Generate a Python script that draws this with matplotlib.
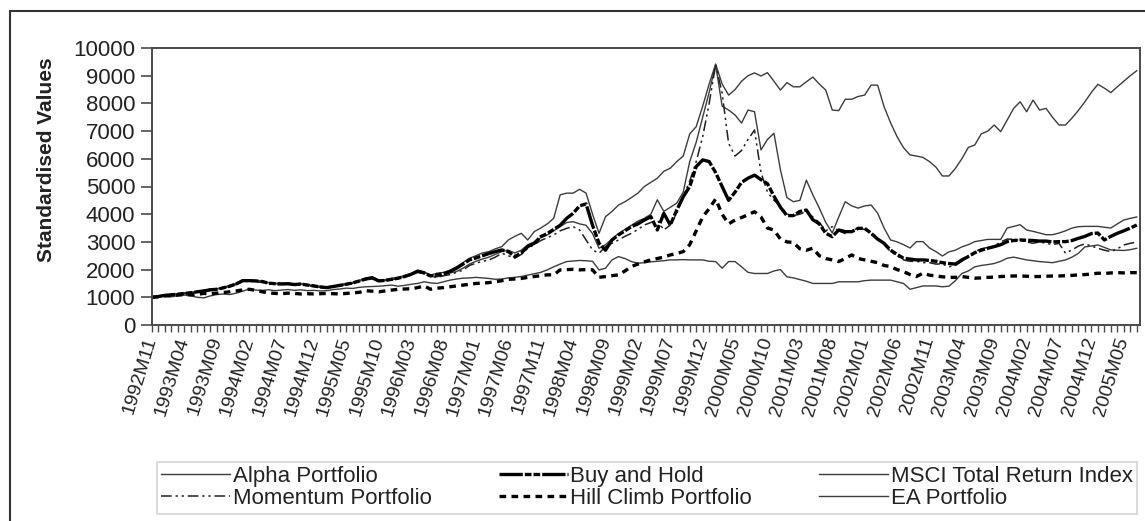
import matplotlib
matplotlib.use('Agg')
import matplotlib.pyplot as plt
from matplotlib.patches import Rectangle

plt.rcParams['font.family'] = ['Liberation Sans', 'DejaVu Sans']

# monthly values, 1992M11 .. 2005M07 (one row per year)
alpha = [1000, 1050,
         1080, 1080, 1130, 1140, 1180, 1190, 1230, 1300, 1290, 1360, 1410, 1480,
         1590, 1630, 1580, 1560, 1530, 1480, 1510, 1480, 1490, 1470, 1440, 1400,
         1400, 1370, 1380, 1450, 1500, 1510, 1580, 1650, 1730, 1620, 1600, 1680,
         1710, 1740, 1850, 1920, 1900, 1800, 1740, 1790, 1880, 1930, 2050, 2200,
         2300, 2380, 2450, 2550, 2650, 2700, 2600, 2700, 2900, 3000, 3150, 3250,
         3400, 3550, 3700, 3730, 3650, 3600, 3300, 2770, 2900, 3100, 3300, 3450,
         3600, 3750, 3850, 4000, 4520, 4100, 4250, 4400, 4800, 5900, 6600, 7500,
         8400, 9400, 7900, 7760, 7580, 7290, 7760, 7700, 6320, 6700, 6920, 5600,
         4600, 4450, 4500, 5230, 4700, 4220, 3700, 3320, 3900, 4450, 4300, 4220,
         4300, 4330, 4040, 3500, 3070, 3000, 2900, 2780, 3010, 3010, 2780, 2650,
         2490, 2640, 2700, 2820, 2900, 3010, 3050, 3090, 3090, 3090, 3500, 3560,
         3620, 3430, 3380, 3320, 3260, 3260, 3320, 3400, 3500, 3550, 3560, 3560,
         3560, 3530, 3500, 3650, 3790, 3850, 3900]

momentum = [1000, 1020,
            1050, 1070, 1100, 1130, 1150, 1180, 1210, 1250, 1280, 1330, 1390, 1460,
            1580, 1590, 1560, 1540, 1490, 1470, 1460, 1470, 1440, 1460, 1420, 1390,
            1360, 1340, 1380, 1420, 1460, 1500, 1570, 1640, 1680, 1570, 1590, 1630,
            1680, 1730, 1810, 1900, 1860, 1740, 1720, 1780, 1820, 1900, 1980, 2150,
            2230, 2300, 2350, 2450, 2590, 2500, 2410, 2550, 2770, 2900, 3050, 3150,
            3250, 3400, 3490, 3550, 3430, 3070, 2710, 2590, 2830, 2950, 3070, 3200,
            3310, 3450, 3610, 3700, 3790, 3430, 3610, 4030, 4630, 5200, 5900, 6800,
            8000, 9400, 8370, 6560, 6100, 6300, 6700, 7040, 5500, 4800, 4500, 4300,
            4000, 3950, 4000, 4100, 3900, 3700, 3400, 3550, 3400, 3300, 3400, 3500,
            3450, 3350, 3150, 2900, 2650, 2500, 2350, 2300, 2300, 2250, 2250, 2200,
            2200, 2100, 2150, 2300, 2500, 2650, 2750, 2800, 2850, 3000, 3100, 3100,
            3050, 3000, 2950, 3000, 2950, 2900, 2950, 2590, 2710, 2850, 2930, 2850,
            2770, 2700, 2650, 2750, 2890, 2950, 2990]

buy_hold = [1000, 1030,
            1070, 1090, 1110, 1140, 1160, 1200, 1230, 1270, 1290, 1340, 1400, 1480,
            1600, 1600, 1590, 1570, 1510, 1490, 1480, 1490, 1460, 1480, 1440, 1410,
            1370, 1350, 1390, 1430, 1470, 1520, 1590, 1660, 1700, 1590, 1610, 1650,
            1690, 1750, 1830, 1940, 1880, 1770, 1810, 1850, 1930, 2050, 2200, 2350,
            2420, 2500, 2580, 2650, 2710, 2650, 2470, 2600, 2830, 2950, 3190, 3300,
            3450, 3600, 3850, 4030, 4300, 4370, 3600, 2950, 2700, 3070, 3250, 3400,
            3550, 3650, 3790, 3910, 3430, 4030, 3610, 4150, 4630, 5000, 5720, 5960,
            5900, 5500, 5000, 4500, 4800, 5150, 5300, 5410, 5250, 5100, 4650, 4250,
            3950, 3950, 4100, 4150, 3800, 3650, 3310, 3190, 3430, 3370, 3370, 3490,
            3490, 3310, 3100, 2950, 2700, 2550, 2410, 2380, 2350, 2350, 2330, 2300,
            2250, 2220, 2200, 2350, 2470, 2610, 2700, 2770, 2830, 2900, 3010, 3050,
            3070, 3060, 3050, 3030, 3030, 3000, 3010, 3010, 3050, 3130, 3200, 3300,
            3320, 3070, 3200, 3310, 3400, 3500, 3610]

hill_climb = [1000, 1020,
              1050, 1060, 1080, 1100, 1090, 1110, 1140, 1130, 1150, 1170, 1200, 1230,
              1265, 1290, 1250, 1200, 1160, 1140, 1130, 1150, 1140, 1120, 1130, 1120,
              1130, 1140, 1130, 1120, 1140, 1160, 1180, 1240, 1220, 1200, 1230, 1260,
              1290, 1300, 1310, 1350, 1410, 1290, 1330, 1350, 1380, 1410, 1440, 1470,
              1500, 1510, 1530, 1560, 1600, 1650, 1660, 1680, 1720, 1750, 1780, 1810,
              1810, 1990, 2000, 2010, 1990, 2000, 1990, 1720, 1750, 1780, 1810, 1950,
              2110, 2200, 2280, 2350, 2400, 2450, 2530, 2580, 2650, 2900, 3400, 3900,
              4200, 4550, 4000, 3650, 3790, 3880, 3980, 4090, 3900, 3500, 3430, 3100,
              3000, 2980, 2750, 2700, 2770, 2500, 2400, 2350, 2290, 2400, 2530, 2400,
              2350, 2300, 2250, 2150, 2110, 2000, 1930, 1820, 1750, 1870, 1800, 1770,
              1740, 1720, 1720, 1750, 1720, 1690, 1700, 1720, 1730, 1750, 1760, 1770,
              1770, 1760, 1750, 1750, 1760, 1770, 1770, 1780, 1790, 1810, 1820, 1840,
              1870, 1860, 1880, 1890, 1880, 1890, 1890]

msci = [1000, 1030,
        1040, 1020, 1060, 1080, 1050, 1000, 980, 1050, 1100, 1120, 1100, 1150,
        1220, 1300, 1260, 1250, 1270, 1240, 1260, 1280, 1250, 1270, 1240, 1250,
        1230, 1240, 1280, 1300, 1330, 1320, 1360, 1380, 1390, 1400, 1420, 1440,
        1400, 1430, 1470, 1500, 1560, 1520, 1500, 1560, 1620, 1660, 1690, 1700,
        1720, 1700, 1680, 1650, 1660, 1700, 1720, 1750, 1800, 1850, 1900, 1990,
        2100, 2200, 2290, 2310, 2330, 2320, 2300, 1990, 2050, 2350, 2470, 2400,
        2290, 2230, 2250, 2280, 2300, 2320, 2350, 2350, 2360, 2350, 2350, 2350,
        2300, 2290, 2050, 2290, 2290, 2100, 1900, 1860, 1860, 1860, 1950, 2000,
        1740, 1700, 1640, 1580, 1500, 1500, 1500, 1500, 1560, 1560, 1560, 1560,
        1600, 1620, 1620, 1620, 1620, 1560, 1500, 1290, 1350, 1410, 1410, 1410,
        1380, 1400, 1600, 1860, 1950, 2100, 2150, 2180, 2220, 2300, 2410, 2450,
        2400, 2350, 2320, 2290, 2270, 2250, 2300, 2350, 2450, 2590, 2820, 2850,
        2890, 2800, 2710, 2700, 2690, 2720, 2770]

ea = [1000, 1040,
      1090, 1110, 1130, 1160, 1180, 1210, 1250, 1290, 1310, 1360, 1430, 1510,
      1630, 1620, 1610, 1590, 1530, 1510, 1500, 1510, 1480, 1500, 1460, 1430,
      1390, 1370, 1410, 1450, 1490, 1540, 1610, 1700, 1740, 1620, 1640, 1680,
      1720, 1790, 1860, 1980, 1920, 1800, 1870, 1900, 1980, 2100, 2250, 2410,
      2500, 2600, 2650, 2750, 2830, 3070, 3200, 3310, 3070, 3370, 3500, 3650,
      3850, 4700, 4760, 4760, 4900, 4760, 4000, 3310, 3910, 4100, 4330, 4450,
      4600, 4760, 5000, 5150, 5300, 5550, 5660, 5900, 6100, 6900, 7160, 7900,
      8700, 9420, 8700, 8300, 8500, 8800, 9000, 9100, 8990, 9110, 8800, 8480,
      8750, 8600, 8600, 8780, 8950, 8700, 8480, 7760, 7740, 8150, 8150, 8250,
      8300, 8660, 8660, 7880, 7300, 6800, 6400, 6140, 6100, 6050, 5900, 5700,
      5380, 5380, 5650, 6000, 6410, 6500, 6900, 7000, 7220, 6980, 7400, 7820,
      8060, 7700, 8120, 7760, 7820, 7500, 7220, 7220, 7470, 7750, 8060, 8400,
      8690, 8550, 8390, 8600, 8800, 9000, 9180]

month_labels = ['1992M11', '1993M04', '1993M09', '1994M02', '1994M07', '1994M12',
                '1995M05', '1995M10', '1996M03', '1996M08', '1997M01', '1997M06',
                '1997M11', '1998M04', '1998M09', '1999M02', '1999M07', '1999M12',
                '2000M05', '2000M10', '2001M03', '2001M08', '2002M01', '2002M06',
                '2002M11', '2003M04', '2003M09', '2004M02', '2004M07', '2004M12',
                '2005M05']

n = len(ea)
x = list(range(n))

W, H = 1145, 521
fig = plt.figure(figsize=(W / 100, H / 100), dpi=100)
ax = fig.add_axes([152 / W, 1 - 325 / H, (1140 - 152) / W, (325 - 48) / H])

thin = '#3c3c3c'
l_alpha, = ax.plot(x, alpha, color=thin, lw=1.0, label='Alpha Portfolio')
l_msci, = ax.plot(x, msci, color=thin, lw=1.0, label='MSCI Total Return Index')
l_ea, = ax.plot(x, ea, color=thin, lw=1.0, label='EA Portfolio')
l_mom, = ax.plot(x, momentum, color='#202020', lw=1.1,
                 linestyle=(0, (7, 2.5, 1.5, 2.5, 1.5, 2.5)), label='Momentum Portfolio')
l_hill, = ax.plot(x, hill_climb, color='black', lw=2.4,
                  linestyle=(0, (2, 1.6)), label='Hill Climb Portfolio')
l_bh, = ax.plot(x, buy_hold, color='black', lw=2.4,
                linestyle=(0, (7, 0.6, 2, 0.6, 2, 0.6)), label='Buy and Hold')

ax.set_xlim(0, 152.5)
ax.set_ylim(0, 10000)
ax.set_yticks(range(0, 10001, 1000))
ax.set_xticks(x)
ax.set_xticklabels([month_labels[i // 5] if i % 5 == 0 else '' for i in x])

for s in ax.spines.values():
    s.set_color('#4a4a4a')
    s.set_linewidth(1.4)

ax.tick_params(axis='y', direction='out', length=8, width=1.2, color='#4a4a4a',
               labelsize=16, labelcolor='#222222', pad=4)
ax.tick_params(axis='x', direction='out', length=5, width=1.0, color='#4a4a4a',
               labelsize=14, labelcolor='#222222', pad=4)
for lab in ax.get_xticklabels():
    lab.set_rotation(73)
    lab.set_ha('right')
    lab.set_va('center')
    lab.set_rotation_mode('anchor')

fig.text(47 / W, 1 - 160 / H, 'Standardised Values', rotation=90, ha='center',
         va='center', fontsize=15, fontweight='bold', color='#222222')

leg = fig.legend(handles=[l_alpha, l_mom, l_bh, l_hill, l_msci, l_ea], ncol=3,
                 loc='center', mode='expand',
                 bbox_to_anchor=(157 / W, 1 - 513 / H, 980 / W, 51 / H),
                 borderaxespad=0, fontsize=16, frameon=True, fancybox=False,
                 edgecolor='#c8c8c8', handlelength=3.1, handletextpad=0.1,
                 borderpad=0.2, labelspacing=0.05)
leg.get_frame().set_linewidth(1.2)
for t in leg.get_texts():
    t.set_color('#222222')

# outer chart border (right and bottom run off the picture)
fig.patches.append(Rectangle((10 / W, -0.1), 1.2, 1.1 - 11 / H, transform=fig.transFigure,
                             fill=False, edgecolor='#333333', lw=1.5))

fig.savefig('out.png', dpi=100)
